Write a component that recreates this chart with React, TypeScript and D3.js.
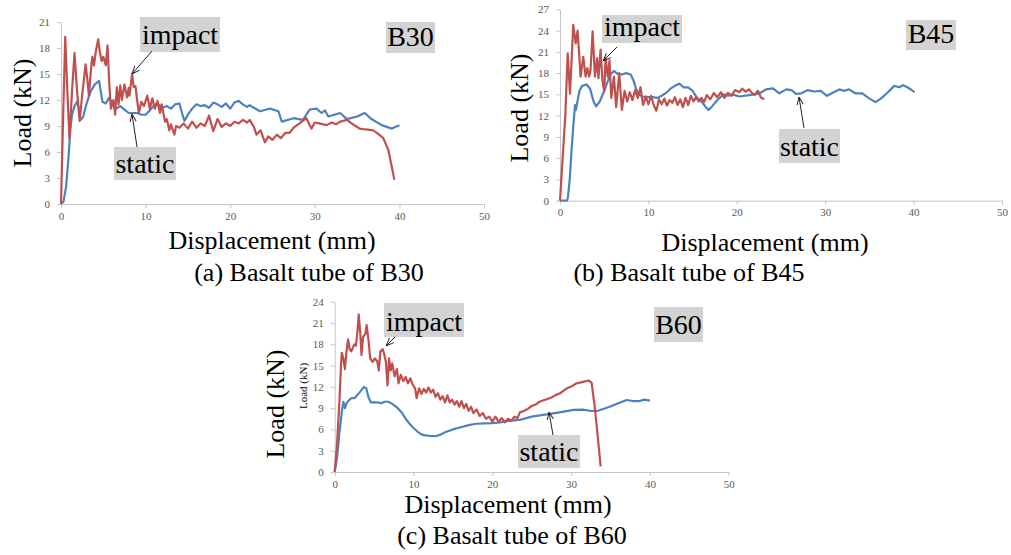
import { useEffect, useRef } from "react";
import { scaleLinear, axisLeft, axisBottom, select, line } from "d3";

// ---- data (displacement mm, load kN) ----
const xTicks = [0, 10, 20, 30, 40, 50];
const b30Ticks = [0, 3, 6, 9, 12, 15, 18, 21];
const b45Ticks = [0, 3, 6, 9, 12, 15, 18, 21, 24, 27];
const b60Ticks = [0, 3, 6, 9, 12, 15, 18, 21, 24];

const b30Impact = [
  [0, 0], [0.25, 10], [0.5, 19.3], [0.75, 13], [1.0, 7.6], [1.3, 13], [1.6, 17.4], [1.9, 13], [2.2, 9.6],
  [2.5, 12.5], [2.9, 16.1], [3.1, 14.5], [3.3, 12.5], [3.5, 15], [3.7, 17], [3.9, 16], [4.1, 17.5], [4.4, 19],
  [4.6, 17.5], [4.8, 16.5], [5.0, 17], [5.3, 16], [5.5, 18.3], [5.7, 14], [5.9, 11], [6.2, 12], [6.4, 10.3],
  [6.6, 13.5], [6.8, 11.5], [7.0, 13.7], [7.2, 12], [7.5, 13.8], [7.8, 12.3], [8.0, 13.4], [8.1, 12.5],
  [8.4, 15], [8.6, 13.5], [8.8, 13.6], [9.0, 12], [9.2, 10.5], [9.5, 11.8], [9.8, 11.3], [10.2, 12.5],
  [10.5, 11], [10.8, 12.2], [11.1, 11], [11.4, 11.9], [11.7, 10.5], [11.9, 11.5], [12.3, 9.5], [12.5, 9.8],
  [12.8, 8.5], [13.0, 9.2], [13.4, 8.0], [13.6, 9], [14, 8.8], [14.5, 9.3], [15, 8.7], [15.5, 9.5], [16, 8.8],
  [16.5, 9.3], [17, 9], [17.5, 10.2], [18, 8.4], [18.5, 9.8], [19, 8.9], [19.5, 9.3], [20, 9], [20.5, 9.5],
  [21, 9.3], [21.5, 9.7], [22, 9.4], [22.3, 9.7], [22.8, 8.9], [23.1, 8.0], [23.6, 8.5], [24.1, 7.1],
  [24.5, 7.8], [25, 7.4], [25.5, 8.0], [26, 7.6], [26.5, 8.2], [27, 8.2], [27.5, 8.8], [28.2, 9.3], [29, 9.9],
  [29.6, 8.7], [30, 9.4], [30.5, 9.3], [31.4, 9.1], [32, 9.4], [32.5, 9.2], [33, 9.5], [33.8, 9.7], [34.5, 9.2],
  [35.3, 8.7], [36, 8.6], [36.9, 8.5], [37.5, 8.1], [38.1, 7.6], [38.7, 6.2], [39.1, 4.3], [39.4, 2.8],
];
const b30Static = [
  [0, 0], [0.3, 0.3], [0.6, 2], [0.9, 5.5], [1.1, 8.5], [1.3, 10.3], [1.6, 11.3], [1.9, 11.8], [2.1, 11.0],
  [2.3, 9.7], [2.6, 10.0], [3.0, 11.5], [3.5, 13.0], [4.0, 13.8], [4.5, 14.2], [4.7, 13], [4.9, 11.8],
  [5.3, 11.6], [5.7, 12.3], [6.0, 11.6], [6.5, 11.0], [7.0, 11.3], [7.5, 10.9], [8.0, 10.5], [8.5, 10.5],
  [9.0, 10.5], [9.5, 10.3], [10, 10.3], [10.5, 10.8], [11.0, 11.4], [11.5, 11.5], [12, 11.1], [12.5, 11.3],
  [13, 11.0], [13.5, 11.5], [14, 11.6], [14.3, 10.5], [14.6, 9.6], [15, 10.3], [15.5, 11.0], [16, 11.5],
  [16.5, 11.3], [17, 11.4], [17.5, 11.1], [18, 11.7], [18.5, 11.5], [19, 11.2], [19.5, 11.6], [20, 11.0],
  [20.5, 11.7], [21, 11.9], [21.5, 11.5], [22, 11.2], [22.3, 11.4], [23.5, 10.7], [24.7, 11.0], [25.7, 10.7],
  [26.1, 9.5], [27.5, 9.9], [28.6, 9.7], [29.4, 10.9], [30.2, 11.0], [30.8, 10.5], [31.2, 10.8], [31.6, 10.1],
  [33.0, 10.5], [33.8, 9.8], [35.0, 10.1], [35.9, 10.5], [36.7, 9.8], [37.9, 9.1], [39.1, 8.7], [40, 9.1],
];
const b45Impact = [
  [0, 0], [0.3, 6], [0.6, 12], [0.87, 20.8], [1.13, 15.1], [1.5, 24.8], [1.77, 22.2], [1.99, 24.0],
  [2.33, 17.5], [2.63, 20.3], [2.9, 17.5], [3.1, 18.7], [3.3, 17.5], [3.45, 18.4], [3.69, 23.9], [3.95, 17.5],
  [4.2, 20.1], [4.35, 17.3], [4.59, 21.3], [4.8, 17], [5.0, 15.4], [5.16, 20.1], [5.4, 17.5], [5.6, 19.8],
  [5.8, 14.5], [6.1, 17.5], [6.35, 13.2], [6.7, 18], [7.0, 12.8], [7.3, 15.5], [7.6, 14], [7.9, 15.3],
  [8.2, 14.2], [8.5, 15.6], [8.8, 14.5], [9.1, 16], [9.4, 13.5], [9.7, 14.7], [10, 13.6], [10.3, 14.8],
  [10.6, 13.5], [10.9, 12.7], [11.2, 14.3], [11.5, 13.6], [11.8, 14.4], [12.1, 13.4], [12.4, 14.2],
  [12.7, 13.8], [13, 14.6], [13.3, 13.5], [13.6, 14.3], [13.9, 13.2], [14.2, 14.5], [14.5, 13.5], [14.8, 14.8],
  [15.1, 14], [15.4, 14.6], [15.7, 14.0], [16, 14.5], [16.3, 13.9], [16.6, 14.9], [17, 14.3], [17.4, 15.2],
  [17.8, 14.6], [18.2, 15.3], [18.6, 14.5], [19, 15.2], [19.4, 14.8], [19.8, 15.6], [20.3, 15.3],
  [20.6, 15.8], [21.0, 15.4], [21.4, 15.7], [21.7, 15.2], [22.0, 14.9], [22.4, 15.5], [22.7, 14.6], [23.1, 14.3],
];
const b45Static = [
  [0, 0], [0.8, 0], [0.9, 0.5], [1.1, 3], [1.3, 7], [1.5, 10.5], [1.7, 13.5], [1.8, 12.8], [1.9, 13.5],
  [2.2, 15.5], [2.5, 16.2], [3.0, 16.4], [3.4, 15.8], [3.8, 14.0], [4.1, 13.3], [4.5, 14], [5.0, 15.5],
  [5.3, 16.5], [5.7, 17.8], [6.1, 18.3], [6.5, 17.9], [7, 17.8], [7.5, 18], [8.0, 17.8], [8.3, 17], [8.6, 15.8],
  [8.9, 15.0], [9.3, 14.7], [10, 14.6], [10.5, 14.6], [11, 14.5], [11.5, 14.8], [12, 15.2], [12.5, 15.8],
  [13, 16.2], [13.5, 16.5], [14, 16], [14.5, 16], [15, 15.5], [15.5, 14.5], [16, 14], [16.5, 13.2],
  [16.8, 12.8], [17.2, 13.3], [17.8, 14.2], [18.5, 15.0], [19, 14.8], [19.5, 15.0], [20.3, 14.7], [21.4, 14.9],
  [22.6, 15.15], [23.3, 15.7], [24.1, 15.85], [24.8, 15.15], [25.6, 15.7], [26.2, 15.6], [26.7, 15.05],
  [27.3, 15.15], [28.0, 15.6], [28.8, 15.4], [29.5, 15.5], [30.2, 14.8], [30.8, 15.2], [31.6, 15.7],
  [32.1, 15.5], [32.7, 15.7], [33.4, 15.15], [34.2, 15.15], [35.0, 14.4], [35.7, 13.9], [36.3, 14.4],
  [37.1, 15.3], [37.8, 16.2], [38.4, 16.0], [38.8, 16.3], [39.3, 16.0], [39.8, 15.6], [40.1, 15.3],
];
const b60Impact = [
  [0, 0], [0.3, 4], [0.6, 10], [0.8, 15], [0.9, 16.8], [1.1, 16], [1.3, 14.5], [1.5, 17], [1.7, 18.7],
  [1.9, 17.3], [2.1, 17.0], [2.3, 17.5], [2.5, 18], [2.7, 17.8], [2.9, 20], [3.05, 22.2], [3.25, 19.5],
  [3.4, 16.5], [3.6, 19], [3.9, 19.5], [4.05, 20.7], [4.3, 18.5], [4.5, 16], [4.8, 15.5], [5.1, 16.0],
  [5.4, 15.6], [5.6, 14.3], [5.8, 17], [6.1, 17.3], [6.3, 16.5], [6.5, 15.5], [6.7, 12.2], [6.9, 16.0],
  [7.1, 14.3], [7.3, 15.3], [7.6, 13.5], [7.9, 14.5], [8.1, 12.5], [8.4, 13.7], [8.7, 12.8], [9.0, 13.4],
  [9.3, 12.5], [9.6, 13.2], [9.9, 12.3], [10.2, 11.8], [10.4, 10.4], [10.7, 11.8], [11, 11.0], [11.3, 11.7],
  [11.6, 11.2], [11.9, 11.9], [12.2, 11.2], [12.5, 11.6], [12.8, 10.6], [13.1, 11.1], [13.4, 10.2],
  [13.7, 10.7], [14, 9.8], [14.3, 10.8], [14.6, 9.8], [14.9, 10.2], [15.2, 9.5], [15.5, 10.0], [15.8, 9.2],
  [16.1, 10.0], [16.4, 9.0], [16.7, 9.6], [17, 8.6], [17.3, 9.2], [17.6, 8.3], [18, 8.8], [18.4, 7.9],
  [18.8, 8.3], [19.2, 7.5], [19.6, 7.8], [20, 7.1], [20.4, 7.8], [20.8, 7.1], [21.2, 7.6], [21.6, 7.0],
  [22, 7.5], [22.4, 7.2], [22.8, 7.8], [23.2, 7.6], [23.5, 8.4], [24, 8.6], [24.5, 8.9], [25, 9.3],
  [25.5, 9.5], [26, 9.9], [26.5, 10.1], [27, 10.3], [27.5, 10.5], [28, 10.8], [28.6, 11.1], [29.1, 11.5],
  [29.5, 11.8], [30.1, 12.1], [30.7, 12.5], [31.5, 12.7], [32.2, 12.9], [32.6, 12.6], [33.0, 9.2],
  [33.3, 5.9], [33.75, 0.8],
];
const b60Static = [
  [0, 0], [0.3, 2], [0.6, 5.5], [0.9, 8.5], [1.1, 9.9], [1.3, 9.0], [1.5, 9.7], [1.8, 10.1], [2.1, 10.4],
  [2.5, 10.4], [2.9, 10.9], [3.3, 11.4], [3.7, 12.0], [4.0, 11.8], [4.3, 10.5], [4.6, 9.8], [5, 9.8],
  [5.5, 9.8], [5.9, 9.7], [6.3, 9.9], [6.8, 9.9], [7.3, 9.6], [8, 9.0], [8.5, 8.4], [9, 7.5], [9.5, 6.8],
  [10, 6.2], [10.5, 5.7], [11, 5.3], [11.5, 5.15], [12, 5.1], [12.5, 5.05], [13, 5.1], [13.5, 5.3],
  [14, 5.6], [15, 6.0], [16, 6.3], [17, 6.6], [18, 6.8], [19, 6.85], [20, 6.9], [21, 7.0], [22, 7.2],
  [23.5, 7.35], [25, 7.8], [27.3, 8.2], [28.5, 8.4], [30.3, 8.75], [31.5, 8.8], [32.6, 8.6], [33.3, 8.6],
  [34.9, 9.2], [36, 9.7], [37.05, 10.15], [37.8, 10.0], [38.7, 10.0], [39.3, 10.2], [40, 10.05],
];

const RED = "#c0504d";
const BLUE = "#4f81bd";
const SERIF = "Liberation Serif, Times New Roman, serif";

let Axes = ({ xScale, yScale, yTicks }) => {
  let xRef = useRef(null);
  let yRef = useRef(null);
  let y0 = yScale(0);
  let x0 = xScale(0);
  useEffect(() => {
    let xg = select(xRef.current);
    xg.call(axisBottom(xScale).tickValues(xTicks).tickSizeInner(4).tickSizeOuter(0).tickPadding(4));
    let yg = select(yRef.current);
    yg.call(axisLeft(yScale).tickValues(yTicks).tickSizeInner(4).tickSizeOuter(0).tickPadding(7));
    [xg, yg].forEach((g) => {
      g.attr("font-family", null);
      g.select(".domain").attr("stroke", "#c6c6c6").attr("stroke-width", 1);
      g.selectAll(".tick line").attr("stroke", "#c6c6c6");
      g.selectAll(".tick text")
        .attr("fill", "#595959")
        .style("font-family", SERIF)
        .style("font-size", "11px");
    });
  }, []);
  return (
    <>
      <g ref={xRef} transform={`translate(0,${y0})`} />
      <g ref={yRef} transform={`translate(${x0},0)`} />
    </>
  );
};

let Tag = ({ x, y, w, h, text, baseline }) => (
  <g>
    <rect x={x} y={y} width={w} height={h} fill="#d3d3d3" />
    <text x={x + w / 2} y={baseline} textAnchor="middle" style={{ fontFamily: SERIF, fontSize: 28 }} fill="#000">
      {text}
    </text>
  </g>
);

let Arrow = ({ x1, y1, x2, y2 }) => (
  <line x1={x1} y1={y1} x2={x2} y2={y2} stroke="#222" strokeWidth={1} markerEnd="url(#arrowHead)" />
);

let Panel = ({ xRange, yRange, yMax, yTicks, impact, stat, children }) => {
  let xScale = scaleLinear().domain([0, 50]).range(xRange);
  let yScale = scaleLinear().domain([0, yMax]).range(yRange);
  let lineGen = line()
    .x((d) => xScale(d[0]))
    .y((d) => yScale(d[1]));
  return (
    <g>
      <Axes xScale={xScale} yScale={yScale} yTicks={yTicks} />
      <path d={lineGen(stat)} fill="none" stroke={BLUE} strokeWidth={2.2} strokeLinejoin="round" />
      <path d={lineGen(impact)} fill="none" stroke={RED} strokeWidth={2.2} strokeLinejoin="round" />
      {children}
    </g>
  );
};

let Label = ({ x, y, size, rotate, children }) => (
  <text
    x={x}
    y={y}
    textAnchor="middle"
    style={{ fontFamily: SERIF, fontSize: size }}
    fill="#000"
    dy={rotate ? "0.35em" : 0}
    transform={rotate ? `rotate(-90,${x},${y})` : undefined}
  >
    {children}
  </text>
);

export default function App() {
  return (
    <svg width={1011} height={555} style={{ position: "absolute", left: 0, top: 0, background: "#fff" }}>
      <defs>
        <marker id="arrowHead" viewBox="0 0 10 10" refX="10" refY="5" markerWidth="8" markerHeight="8" orient="auto">
          <path d="M0,1 L10,5 L0,9" fill="none" stroke="#222" strokeWidth={1.2} />
        </marker>
      </defs>

      {/* (a) B30 */}
      <Panel xRange={[61, 484]} yRange={[204, 22]} yMax={21} yTicks={b30Ticks} impact={b30Impact} stat={b30Static}>
        <Tag x={140} y={17} w={80} h={35} text="impact" baseline={43.5} />
        <Tag x={386} y={22} w={49} h={31} text="B30" baseline={46} />
        <Tag x={114} y={147} w={62} h={33} text="static" baseline={173} />
        <Arrow x1={152} y1={51} x2={132} y2={74} />
        <Arrow x1={137} y1={147} x2={132} y2={114} />
      </Panel>
      <Label x={22} y={113} size={26} rotate>Load (kN)</Label>
      <Label x={272} y={249} size={26}>Displacement (mm)</Label>
      <Label x={309} y={281} size={26}>(a) Basalt tube of B30</Label>

      {/* (b) B45 */}
      <Panel xRange={[560, 1002]} yRange={[200.7, 9.3]} yMax={27} yTicks={b45Ticks} impact={b45Impact} stat={b45Static}>
        <Tag x={602} y={15} w={80} h={28} text="impact" baseline={36} />
        <Tag x={906} y={20} w={50} h={30} text="B45" baseline={43} />
        <Tag x={779} y={129} w={61} h={34} text="static" baseline={156} />
        <Arrow x1={617} y1={47} x2={603} y2={61} />
        <Arrow x1={804} y1={128} x2={799} y2={97} />
      </Panel>
      <Label x={519} y={108} size={26} rotate>Load (kN)</Label>
      <Label x={765} y={251} size={26}>Displacement (mm)</Label>
      <Label x={689} y={281} size={26}>(b) Basalt tube of B45</Label>

      {/* (c) B60 */}
      <Panel xRange={[334.7, 728.7]} yRange={[472, 301.7]} yMax={24} yTicks={b60Ticks} impact={b60Impact} stat={b60Static}>
        <Tag x={384} y={303} w={80} h={34} text="impact" baseline={331} />
        <Tag x={654} y={307} w={49} h={35} text="B60" baseline={334} />
        <Tag x={518} y={435} w={62} h={33} text="static" baseline={461} />
        <Arrow x1={395} y1={337} x2={386} y2={346} />
        <Arrow x1={553} y1={435} x2={549} y2={412} />
      </Panel>
      <Label x={303} y={386} size={11} rotate>Load (kN)</Label>
      <Label x={275} y={404} size={26} rotate>Load (kN)</Label>
      <Label x={508} y={513} size={26}>Displacement (mm)</Label>
      <Label x={512} y={544} size={26}>(c) Basalt tube of B60</Label>
    </svg>
  );
}
